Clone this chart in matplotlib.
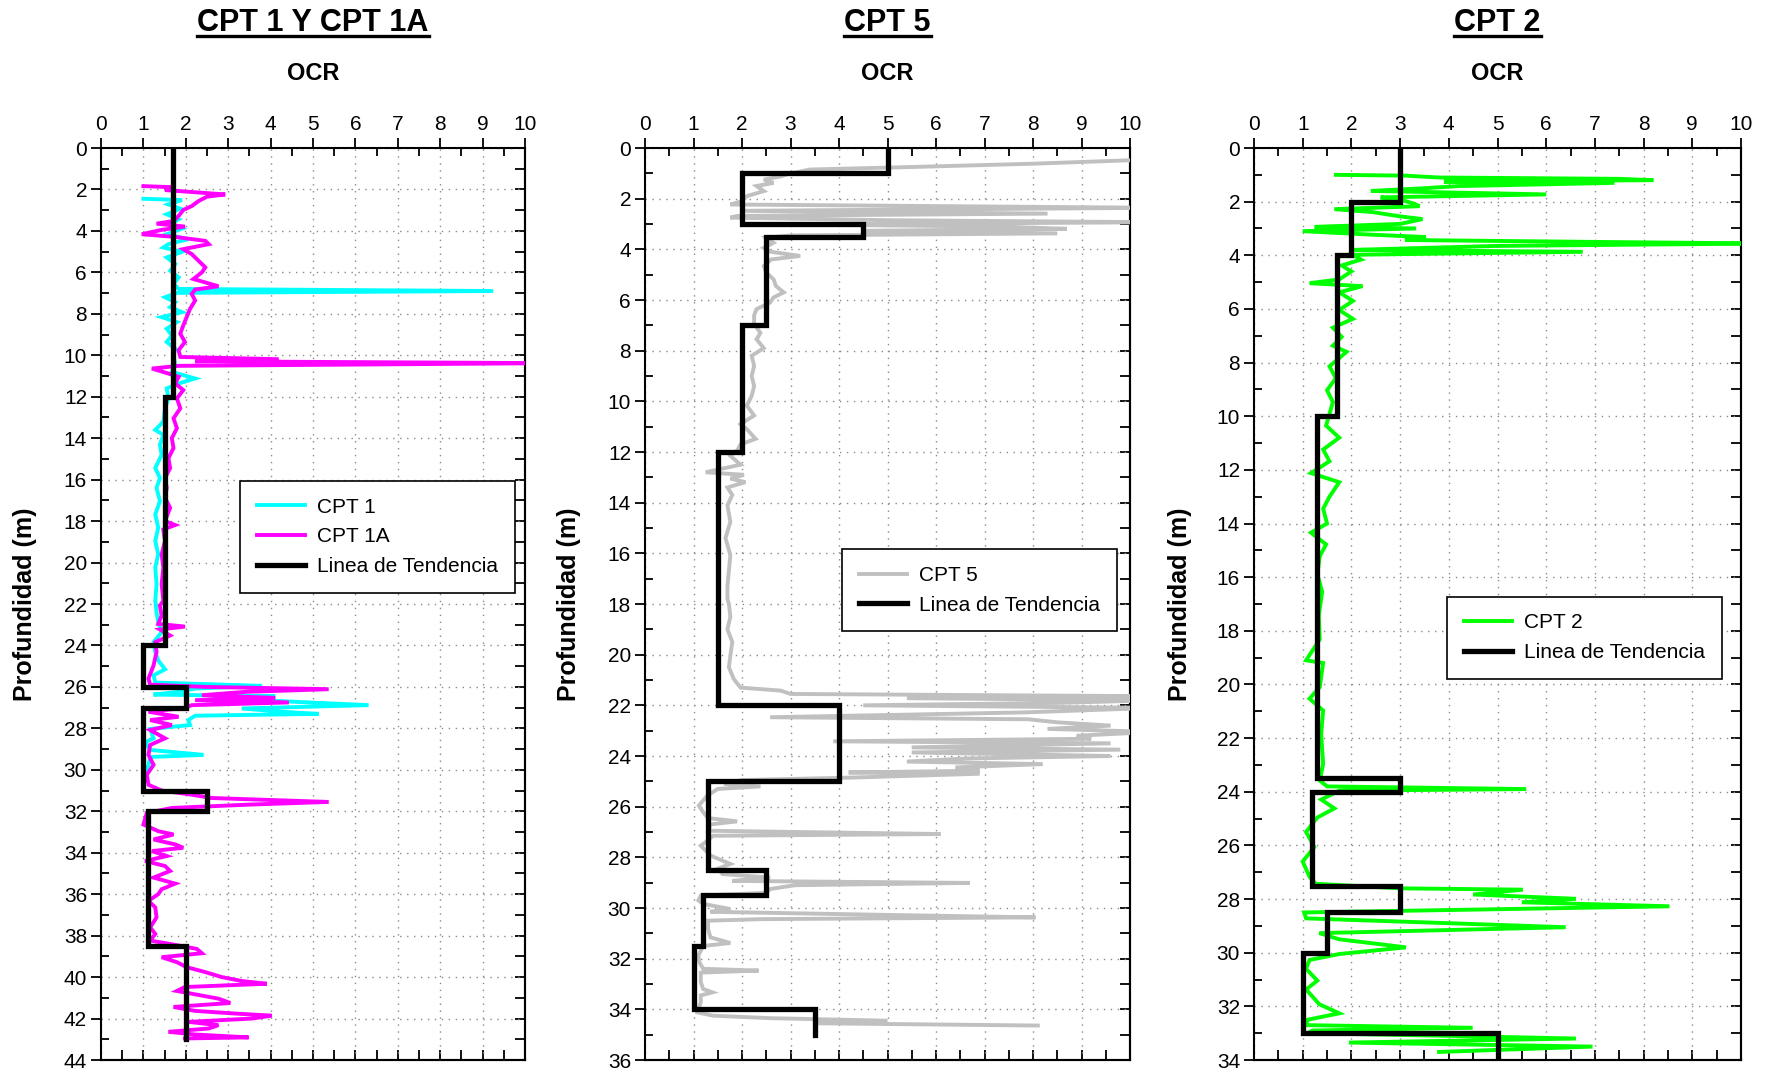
"""OCR vs depth for three CPT soundings, with the step trend line picked for each.

Three panels side by side (depth grows downward, OCR on the top axis):
  left   : CPT 1 and CPT 1A
  middle : CPT 5
  right  : CPT 2
"""

import matplotlib

matplotlib.use("Agg")
import matplotlib.pyplot as plt
from matplotlib.lines import Line2D
from matplotlib.ticker import MultipleLocator, NullFormatter

plt.rcParams["font.family"] = ["Liberation Sans", "DejaVu Sans"]

# --- CPT 1 / CPT 1A ---------------------------------------------------------
cpt1_depth = [2.45, 2.51, 2.72, 2.93, 3.2, 3.44, 3.68, 3.89, 4.16, 4.4, 4.64, 4.8, 5.01,
              5.28, 5.6, 5.92, 6.24, 6.56, 6.8, 6.9, 6.99, 7.2, 7.44, 7.68, 7.92, 8.16,
              8.4, 8.72, 9.04, 9.36, 9.68, 10.0, 10.48, 10.8, 11.12, 11.36, 11.6, 12.08,
              12.56, 13.2, 13.6, 13.84, 14.32, 14.8, 15.44, 15.92, 16.4, 17.04, 17.68,
              18.32, 18.96, 19.6, 20.24, 21.04, 21.84, 22.4, 22.88, 23.36, 23.84, 24.32,
              24.72, 25.15, 25.44, 25.79, 25.95, 26.08, 26.24, 26.37, 26.45, 26.56, 26.72,
              26.88, 27.04, 27.2, 27.3, 27.39, 27.6, 27.84, 28.03, 28.48, 28.67, 29.04,
              29.28, 29.38, 29.76, 30.0]
cpt1_ocr = [1.0, 1.91, 1.59, 1.87, 1.55, 1.83, 1.63, 1.91, 1.55, 2.06, 1.59, 1.47, 1.91,
            1.55, 1.75, 1.63, 1.83, 1.71, 1.83, 9.25, 1.79, 1.51, 1.75, 1.63, 1.91, 1.43,
            1.79, 1.55, 1.67, 1.55, 1.75, 1.71, 1.75, 1.67, 2.22, 1.83, 1.55, 1.59,
            1.51, 1.47, 1.28, 1.47, 1.39, 1.43, 1.28, 1.39, 1.31, 1.39, 1.28,
            1.35, 1.28, 1.35, 1.28, 1.31, 1.28, 1.31, 1.35, 1.43, 1.24, 1.28,
            1.35, 1.51, 1.24, 1.28, 3.8, 2.22, 1.83, 1.24, 4.11, 3.01, 4.58,
            6.31, 3.32, 4.27, 5.13, 2.22, 2.06, 2.1, 1.16, 1.24, 1.04, 1.16,
            2.42, 1.16, 1.12, 1.08]

cpt1a_depth = [1.84, 1.89, 2.03, 2.24, 2.35, 2.56, 2.8, 2.99, 3.28, 3.52, 3.65, 3.79, 3.95,
               4.16, 4.29, 4.48, 4.64, 4.88, 5.12, 5.44, 5.76, 6.0, 6.32, 6.67, 6.83, 7.04,
               7.36, 7.76, 8.16, 8.56, 8.96, 9.36, 9.76, 10.08, 10.19, 10.29, 10.38, 10.51,
               10.64, 10.83, 11.04, 11.36, 11.68, 12.08, 12.56, 13.04, 13.52, 14.0, 14.48,
               14.96, 15.44, 15.92, 16.4, 16.88, 17.36, 18.0, 18.19, 18.4, 18.96, 19.6,
               20.24, 21.04, 21.84, 22.08, 22.56, 22.96, 23.09, 23.23, 23.52, 23.84, 24.32,
               24.96, 25.6, 25.89, 26.0, 26.11, 26.24, 26.4, 26.53, 26.64, 26.75, 26.88,
               27.01, 27.2, 27.44, 27.6, 27.84, 28.08, 28.48, 28.8, 29.28, 29.76, 30.24,
               30.72, 31.0, 31.2, 31.36, 31.55, 31.68, 31.84, 32.08, 32.64, 32.96, 33.12,
               33.36, 33.6, 33.76, 33.92, 34.16, 34.4, 34.64, 34.88, 35.2, 35.49, 35.76,
               36.0, 36.32, 36.64, 37.12, 37.6, 37.92, 38.24, 38.43, 38.64, 38.85, 39.04,
               39.28, 39.52, 39.76, 40.0, 40.19, 40.32, 40.48, 40.67, 40.83, 41.04, 41.25,
               41.44, 41.63, 41.76, 41.86, 42.0, 42.16, 42.32, 42.48, 42.64, 42.77, 42.91,
               42.96]
cpt1a_ocr = [1.0, 1.67, 1.51, 2.93, 2.5, 2.3, 2.14, 1.94, 1.83, 1.71, 1.31, 1.98, 1.43,
             0.96, 1.75, 2.46, 2.54, 1.94, 2.14, 2.3, 2.46, 2.38, 2.18, 2.77, 2.22, 2.14,
             2.22, 2.1, 2.02, 1.94, 1.87, 1.98, 1.83, 1.87, 4.19, 2.22, 10.6, 1.83,
             1.2, 1.51, 1.83, 1.75, 1.94, 1.79, 1.87, 1.71, 1.79, 1.67, 1.71,
             1.59, 1.63, 1.51, 1.55, 1.51, 1.63, 1.51, 1.75, 1.47, 1.51, 1.43,
             1.47, 1.43, 1.47, 1.39, 1.43, 1.35, 1.98, 1.39, 1.63, 1.28, 1.31,
             1.24, 1.12, 1.16, 2.46, 5.37, 3.4, 2.38, 4.11, 2.22, 4.43, 2.14,
             1.98, 1.12, 1.83, 1.16, 1.67, 1.16, 1.51, 1.16, 1.12, 1.24, 1.08,
             1.12, 1.43, 2.14, 2.61, 5.37, 3.48, 1.67, 1.08, 1.0, 1.35, 1.71,
             1.24, 1.75, 1.94, 1.2, 1.55, 1.04, 1.51, 1.63, 1.24, 1.75, 1.43,
             1.35, 1.12, 1.28, 1.31, 1.16, 1.28, 1.16, 1.71, 2.26, 2.38, 1.43,
             1.79, 2.02, 2.46, 2.85, 3.32, 3.91, 1.98, 1.79, 2.22, 2.77, 3.05,
             1.71, 2.22, 3.17, 4.03, 3.56, 2.06, 2.77, 2.54, 1.59, 2.22, 3.48,
             1.98]

trend1_depth = [0, 12, 12, 24, 24, 26, 26, 27, 27, 31, 31, 32, 32, 38.5, 38.5, 43]
trend1_ocr = [1.7, 1.7, 1.5, 1.5, 1.0, 1.0, 2.0, 2.0, 1.0, 1.0, 2.5, 2.5, 1.1, 1.1, 2.0, 2.0]

# --- CPT 5 ------------------------------------------------------------------
cpt5_depth = [0.45, 0.55, 0.62, 0.75, 0.85, 1.0, 1.12, 1.25, 1.38, 1.5, 1.7, 1.9, 2.1,
              2.23, 2.36, 2.48, 2.59, 2.68, 2.75, 2.85, 2.93, 3.02, 3.1, 3.19, 3.27,
              3.37, 3.45, 3.54, 3.74, 3.94, 4.1, 4.26, 4.4, 4.66, 4.92, 5.18, 5.45, 5.7,
              5.9, 6.1, 6.36, 6.6, 6.95, 7.3, 7.55, 7.9, 8.2, 8.6, 9.0, 9.4, 9.78, 10.17,
              10.56, 10.9, 11.1, 11.48, 11.7, 11.94, 12.15, 12.5, 12.8, 12.9, 13.05,
              13.19, 13.4, 13.7, 14.1, 14.76, 15.4, 16.07, 16.7, 17.3, 17.8, 18.0, 18.5,
              19.0, 19.5, 20.04, 20.5, 20.96, 21.3, 21.42, 21.55, 21.64, 21.72, 21.8,
              21.9, 22.0, 22.1, 22.28, 22.47, 22.55, 22.67, 22.8, 22.93, 23.05, 23.2,
              23.32, 23.42, 23.5, 23.66, 23.75, 23.86, 24.0, 24.1, 24.22, 24.32, 24.45,
              24.58, 24.65, 24.7, 24.85, 24.95, 25.1, 25.2, 25.3, 25.57, 25.96, 26.22,
              26.45, 26.58, 26.7, 26.95, 27.08, 27.15, 27.4, 27.54, 27.93, 28.26, 28.45,
              28.66, 28.8, 28.93, 29.01, 29.1, 29.25, 29.4, 29.51, 29.7, 29.84, 30.04,
              30.15, 30.28, 30.37, 30.44, 30.5, 30.83, 31.16, 31.38, 31.5, 31.88, 32.14,
              32.4, 32.47, 32.55, 32.93, 33.2, 33.33, 33.45, 33.72, 33.99, 34.12, 34.25,
              34.35, 34.45, 34.55, 34.64]
cpt5_ocr = [10.5, 9.0, 8.0, 5.5, 3.4, 3.0, 2.8, 2.45, 2.65, 2.3, 2.45, 2.1, 2.0,
            1.76, 10.5, 2.0, 8.3, 1.9, 1.76, 5.0, 10.5, 3.0, 7.3, 8.7, 4.5,
            8.5, 3.0, 2.5, 2.65, 2.45, 2.6, 3.2, 2.6, 2.45, 2.5, 2.65, 2.7, 2.86,
            2.65, 2.58, 2.3, 2.25, 2.25, 2.38, 2.3, 2.45, 2.2, 2.25, 2.2, 2.25, 2.2, 2.1,
            2.25, 1.97, 2.1, 2.28, 1.97, 1.9, 1.76, 1.97, 1.25, 2.04, 1.76,
            2.07, 1.7, 1.8, 1.7, 1.76, 1.66, 1.76, 1.73, 1.7, 1.7, 1.73, 1.76,
            1.7, 1.8, 1.76, 1.73, 1.83, 1.97, 2.8, 3.0, 10.5, 5.4, 10.5,
            8.6, 4.5, 10.5, 7.8, 2.58, 7.9, 8.5, 9.6, 8.3, 10.5, 8.9,
            9.2, 3.88, 9.6, 5.5, 9.8, 5.5, 9.6, 6.6, 5.4, 8.2, 6.4,
            6.9, 4.2, 6.9, 4.3, 2.0, 1.63, 2.38, 1.5, 1.28, 1.11, 1.2,
            1.3, 1.9, 1.35, 1.3, 6.1, 1.4, 1.25, 1.15, 1.35, 1.76, 1.5,
            1.6, 2.58, 1.8, 6.7, 3.1, 2.58, 2.5, 1.15, 1.1, 1.2, 1.76,
            1.35, 5.2, 8.05, 2.4, 1.3, 1.3, 1.35, 1.76, 1.2, 1.1, 1.12,
            1.2, 2.34, 1.15, 1.15, 1.2, 1.39, 1.15, 1.15, 1.1, 1.08, 1.4,
            2.6, 5.0, 3.5, 8.1]

trend5_depth = [0, 1, 1, 3, 3, 3.5, 3.5, 7, 7, 12, 12, 22, 22, 25, 25, 28.5, 28.5, 29.5,
                29.5, 31.5, 31.5, 34, 34, 35]
trend5_ocr = [5, 5, 2, 2, 4.5, 4.5, 2.5, 2.5, 2, 2, 1.5, 1.5, 4, 4, 1.3, 1.3, 2.5, 2.5,
              1.2, 1.2, 1.0, 1.0, 3.5, 3.5]

# --- CPT 2 ------------------------------------------------------------------
cpt2_depth = [1.0, 1.03, 1.1, 1.15, 1.2, 1.25, 1.3, 1.42, 1.5, 1.6, 1.73, 1.84, 1.95,
              2.06, 2.17, 2.28, 2.39, 2.55, 2.65, 2.83, 2.94, 3.0, 3.1, 3.23, 3.32, 3.43,
              3.5, 3.56, 3.65, 3.8, 3.87, 3.98, 4.16, 4.38, 4.6, 4.9, 5.04, 5.15, 5.38,
              5.7, 6.04, 6.37, 6.7, 7.04, 7.37, 7.6, 8.14, 8.58, 9.03, 9.47, 9.91, 10.35,
              10.8, 11.24, 11.68, 12.12, 12.46, 13.0, 13.45, 14.0, 14.34, 14.78, 15.22,
              15.88, 16.55, 17.43, 18.32, 19.1, 19.2, 20.1, 20.53, 20.97, 21.86, 22.96,
              23.58, 23.8, 23.9, 23.96, 24.29, 24.62, 24.96, 25.5, 26.06, 26.6, 27.17,
              27.43, 27.6, 27.65, 27.83, 27.99, 28.12, 28.27, 28.5, 28.72, 28.9, 29.05,
              29.27, 29.5, 29.8, 30.05, 30.27, 30.6, 31.04, 31.37, 31.92, 32.26, 32.5,
              32.7, 32.8, 32.9, 33.0, 33.1, 33.2, 33.35, 33.5, 33.7]
cpt2_ocr = [1.68, 3.1, 3.8, 7.5, 8.2, 3.9, 7.4, 4.2, 3.5, 2.4, 6.0, 2.6, 3.05,
            3.26, 3.4, 1.65, 2.44, 3.0, 3.46, 3.0, 1.24, 3.33, 1.0, 2.4, 3.53, 3.1,
            6.95, 10.5, 5.0, 2.0, 6.75, 2.03, 2.2, 1.8, 2.0, 1.75, 1.14, 2.23, 1.75,
            2.03, 1.75, 2.03, 1.62, 1.8, 1.62, 1.9, 1.55, 1.68, 1.5, 1.62, 1.55, 1.48,
            1.75, 1.42, 1.55, 1.17, 1.75, 1.55, 1.42, 1.5, 1.17, 1.48, 1.35,
            1.3, 1.4, 1.33, 1.35, 1.07, 1.42, 1.35, 1.14, 1.42, 1.38, 1.42,
            1.35, 1.5, 5.59, 1.75, 1.38, 1.65, 1.3, 1.07, 1.24, 1.0, 1.14,
            1.27, 3.0, 5.52, 4.5, 6.61, 5.5, 8.53, 1.03, 1.07, 4.0, 6.4,
            1.34, 1.75, 3.12, 1.75, 1.14, 1.07, 1.3, 1.07, 1.34, 1.75, 1.1,
            1.07, 4.49, 1.2, 1.1, 4.0, 6.61, 1.95, 6.95, 3.8]

trend2_depth = [0, 2, 2, 4, 4, 10, 10, 23.5, 23.5, 24, 24, 27.5, 27.5, 28.5, 28.5, 30,
                30, 33, 33, 34]
trend2_ocr = [3, 3, 2, 2, 1.7, 1.7, 1.3, 1.3, 3, 3, 1.2, 1.2, 3, 3, 1.5, 1.5, 1.0, 1.0,
              5, 5]

TREND = "Linea de Tendencia"


def _style_axis(ax, ymax):
    ax.set_xlim(0, 10)
    ax.set_ylim(ymax, 0)
    ax.xaxis.set_major_locator(MultipleLocator(1))
    ax.xaxis.set_minor_locator(MultipleLocator(0.5))
    ax.yaxis.set_major_locator(MultipleLocator(2))
    ax.yaxis.set_minor_locator(MultipleLocator(1))
    ax.xaxis.tick_top()
    ax.tick_params(which="major", direction="out", length=7, width=1.3, labelsize=15, pad=3)
    ax.tick_params(which="minor", direction="in", length=6, width=1.3)
    ax.grid(True, which="major", color="#8a8a8a", ls=(0, (1, 4)), lw=1)
    for sp in ax.spines.values():
        sp.set_linewidth(1.5)
    # bottom / right: inward ticks only, no labels
    sx = ax.secondary_xaxis("bottom")
    sx.xaxis.set_major_locator(MultipleLocator(0.5))
    sx.xaxis.set_major_formatter(NullFormatter())
    sx.tick_params(direction="in", length=7, width=1.3)
    sy = ax.secondary_yaxis("right")
    sy.yaxis.set_major_locator(MultipleLocator(1))
    sy.yaxis.set_major_formatter(NullFormatter())
    sy.tick_params(direction="in", length=7, width=1.3)
    for s in (sx, sy):
        for sp in s.spines.values():
            sp.set_linewidth(1.5)


fig = plt.figure(figsize=(17.67, 10.72), dpi=100)
W, H = 1767, 1072
top_px, bot_px = 148, 1060

# (left px, right px, y-max, ylabel x px, legend anchor, title)
panels = [
    (101, 525, 44, 37, (0.976, 0.635), "CPT 1 Y CPT 1A"),
    (645, 1130, 36, 581, (0.973, 0.56), "CPT 5"),
    (1254, 1741, 34, 1192, (0.961, 0.508), "CPT 2"),
]
series = [
    [(cpt1_ocr, cpt1_depth, "#00FFFF", "CPT 1"), (cpt1a_ocr, cpt1a_depth, "#FF00FF", "CPT 1A"),
     (trend1_ocr, trend1_depth, "black", TREND)],
    [(cpt5_ocr, cpt5_depth, "#C0C0C0", "CPT 5"), (trend5_ocr, trend5_depth, "black", TREND)],
    [(cpt2_ocr, cpt2_depth, "#00FF00", "CPT 2"), (trend2_ocr, trend2_depth, "black", TREND)],
]

titles = []
for (l, r, ymax, ylab_px, anchor, title), lines in zip(panels, series):
    ax = fig.add_axes([l / W, 1 - bot_px / H, (r - l) / W, (bot_px - top_px) / H])
    for x, y, c, lab in lines:
        is_trend = lab == TREND
        ax.plot(x, y, color=c, lw=3.8 if is_trend else 2.8, label=lab,
                zorder=4 if is_trend else 3, solid_joinstyle="miter")
    _style_axis(ax, ymax)
    ax.set_ylabel("Profundidad (m)", fontsize=18, fontweight="bold")
    ax.yaxis.set_label_coords((ylab_px - l) / (r - l), 0.5)
    leg = ax.legend(loc="upper right", bbox_to_anchor=anchor, fontsize=15, fancybox=False,
                    edgecolor="black", framealpha=1, borderpad=0.8, handlelength=2.3,
                    handletextpad=0.6, labelspacing=0.52, borderaxespad=0)
    leg.get_frame().set_linewidth(1.2)
    cx = (l + r) / 2 / W
    titles.append(fig.text(cx, 0.979, title, ha="center", va="center", fontsize=22,
                           fontweight="bold"))
    fig.text(cx, 0.931, "OCR", ha="center", va="center", fontsize=17, fontweight="bold")

# underline the panel titles
fig.canvas.draw()
for t in titles:
    bb = t.get_window_extent()
    y = bb.y0 + 2
    fig.add_artist(Line2D([bb.x0 / W, bb.x1 / W], [y / H, y / H], color="black", lw=2.4,
                          transform=fig.transFigure))

fig.savefig("out.png", dpi=100)
